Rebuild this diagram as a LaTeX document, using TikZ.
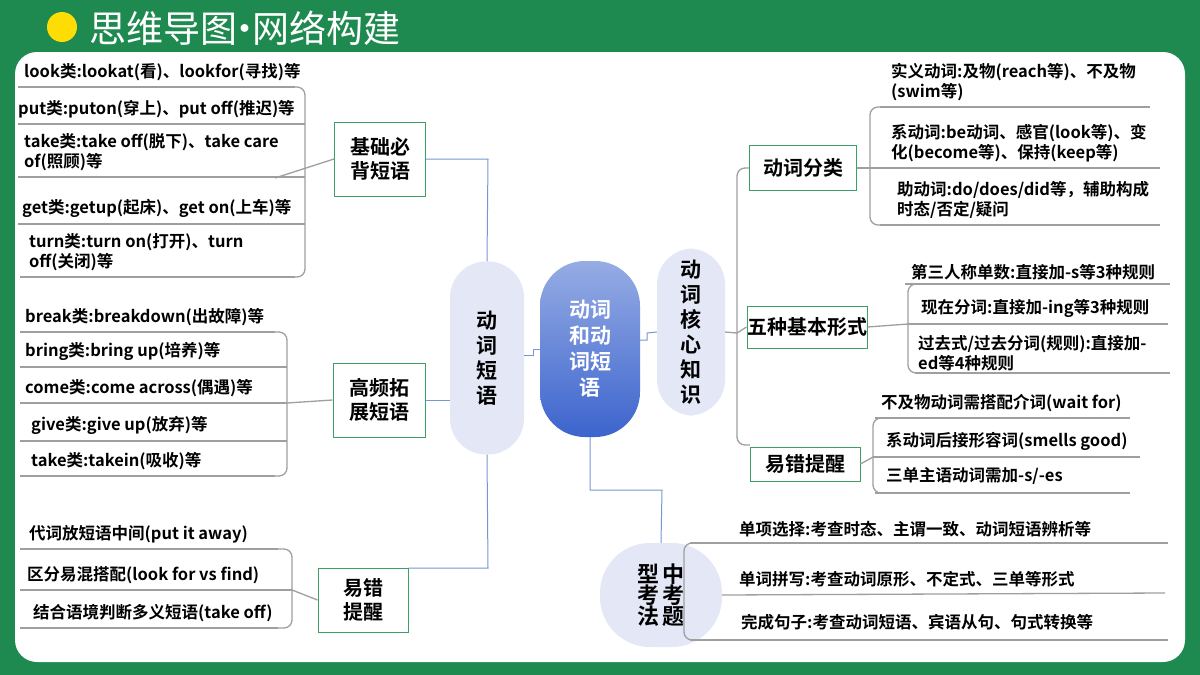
\documentclass[tikz,border=0pt]{standalone}
\usepackage{fontspec}
\setmainfont{Noto Sans CJK SC}[BoldFont={Noto Sans CJK SC Bold}]
\usetikzlibrary{shadows}
\definecolor{bggreen}{RGB}{31,138,80}
\definecolor{pill}{RGB}{228,232,246}
\definecolor{conn}{RGB}{120,150,215}
\definecolor{boxg}{RGB}{60,160,100}
\begin{document}
\begin{tikzpicture}[x=1pt,y=-1pt,
 item/.style={anchor=south west,inner sep=1pt,font=\bfseries\fontsize{16.5}{20}\selectfont,align=left},
 uline/.style={draw=gray!75,line width=1.3pt},
 brk/.style={draw=gray!75,line width=1.3pt,rounded corners=8pt},
 box/.style={draw=boxg,line width=1pt,fill=white,font=\bfseries\fontsize{20}{24}\selectfont,align=center,inner sep=0pt},
 pillst/.style={fill=pill,rounded corners=36pt,font=\bfseries\fontsize{21}{25}\selectfont,align=center},
 cn/.style={draw=conn,line width=1pt}]
\useasboundingbox (0,0) rectangle (1200,675);
\fill[bggreen] (0,0) rectangle (1200,675);
\fill[white,rounded corners=22pt] (15,52) rectangle (1185,662);
\fill[yellow!80!orange] (62,27) circle (15);
\node[anchor=west,text=white,font=\fontsize{37}{40}\selectfont] (title) at (86,28) {思维导图\kern-0.3em·\kern-0.3em网络构建};
% central
\node[minimum width=100,minimum height=176,rounded corners=45pt,top color={rgb,255:red,150;green,172;blue,228},bottom color={rgb,255:red,60;green,100;blue,205},text=white,font=\bfseries\fontsize{21}{26}\selectfont,align=center] (c) at (590,349) {动词\\和动\\词短\\语};
\node[pillst,minimum width=74,minimum height=193] (L) at (487,358) {动\\词\\短\\语};
\node[pillst,minimum width=68,minimum height=167] (R) at (691,332) {动\\词\\核\\心\\知\\识};
\node[pillst,minimum width=122,minimum height=104,rounded corners=50pt,font=\bfseries\fontsize{22}{24}\selectfont] (B) at (661,595) {型\,中\\[-3pt]考\,考\\[-3pt]法\,题};
\draw[cn] (L.east |- 0,355) -- (533,355) -- (533,349) -- (c.west);
\draw[cn] (c.east |- 0,340) -- (647,340) -- (647,333) -- (R.west);
\draw[cn] (c.south) -- (590,490) -- (662,490) -- (B.north);
% left: 基础必背短语
\node[box,minimum width=91,minimum height=74] (b1) at (380,159) {基础必\\背短语};
\draw[cn] (b1.east) -- (488,159) -- (L.north);
\draw[uline] (18,87) -- (295,87); \draw[uline] (18,124) -- (305,124);
\draw[uline] (18,177) -- (305,177); \draw[uline] (18,224) -- (305,224); \draw[uline] (20,277) -- (295,277);
\draw[brk] (290,87) -- (305,87) -- (305,277) -- (290,277);
\draw[uline] (275,178) -- (b1.west);
\node[item] (t1) at (23,82) {look类:lookat(看)、lookfor(寻找)等};
\node[item] (t2) at (17,119) {put类:puton(穿上)、put off(推迟)等};
\node[item] (t3) at (23,172) {take类:take off(脱下)、take care\\of(照顾)等};
\node[item] (t4) at (21,219) {get类:getup(起床)、get on(上车)等};
\node[item] (t5) at (28,272) {turn类:turn on(打开)、turn\\off(关闭)等};
% left: 高频拓展短语
\node[box,minimum width=92,minimum height=74] (b2) at (379,400) {高频拓\\展短语};
\draw[cn] (b2.east) -- (L.west |- b2.east);
\draw[uline] (20,332) -- (275,332); \draw[uline] (20,367) -- (287,367); \draw[uline] (20,403) -- (287,403);
\draw[uline] (20,441) -- (287,441); \draw[uline] (20,476) -- (275,476);
\draw[brk] (270,332) -- (287,332) -- (287,476) -- (270,476);
\draw[uline] (287,403) -- (b2.west);
\node[item] (u1) at (24,327) {break类:breakdown(出故障)等};
\node[item] (u2) at (24,362) {bring类:bring up(培养)等};
\node[item] (u3) at (24,398) {come类:come across(偶遇)等};
\node[item] (u4) at (30,436) {give类:give up(放弃)等};
\node[item] (u5) at (30,471) {take类:takein(吸收)等};
% left: 易错提醒
\node[box,minimum width=90,minimum height=64] (b3) at (363,600) {易错\\提醒};
\draw[cn] (L.south) -- (488,568) -- (b3.east |- 0,568) ;
\draw[uline] (20,549) -- (278,549); \draw[uline] (20,590) -- (292,590); \draw[uline] (20,628) -- (278,628);
\draw[brk] (275,549) -- (292,549) -- (292,628) -- (275,628);
\draw[uline] (292,590) -- (b3.west);
\node[item] (v1) at (28,544) {代词放短语中间(put it away)};
\node[item] (v2) at (26,585) {区分易混搭配(look for vs find)};
\node[item] (v3) at (32,623) {结合语境判断多义短语(take off)};
% right side
\draw[brk] (R.east) -- (737,333);
\draw[brk] (750,168) -- (737,168) -- (737,445) -- (750,445);
\node[box,minimum width=107,minimum height=45] (r1) at (803,168) {动词分类};
\node[box,minimum width=115,minimum height=42] (r2) at (807,327) {五种基本形式};
\node[box,minimum width=110,minimum height=34] (r3) at (805,464) {易错提醒};
\draw[uline] (737,333) -- (r2.west);
% r1 items
\draw[uline] (880,107) -- (1150,107); \draw[uline] (870,168) -- (1160,168); \draw[uline] (880,225) -- (1160,225);
\draw[brk] (885,107) -- (870,107) -- (870,225) -- (885,225);
\draw[uline] (r1.east) -- (870,168);
\node[item] (w1) at (890,102) {实义动词:及物(reach等)、不及物\\(swim等)};
\node[item] (w2) at (890,163) {系动词:be动词、感官(look等)、变\\化(become等)、保持(keep等)};
\node[item] (w3) at (896,220) {助动词:do/does/did等，辅助构成\\时态/否定/疑问};
% r2 items
\draw[uline] (905,284) -- (1170,284); \draw[uline] (908,324) -- (1168,324); \draw[uline] (915,373) -- (1170,373);
\draw[brk] (920,284) -- (908,284) -- (908,373) -- (920,373);
\draw[uline] (r2.east) -- (908,324);
\node[item] (x1) at (910,281) {第三人称单数:直接加-s等3种规则};
\node[item] (x2) at (920,319) {现在分词:直接加-ing等3种规则};
\node[item] (x3) at (917,372) {过去式/过去分词(规则):直接加-\\ed等4种规则};
% r3 items
\draw[uline] (875,418) -- (1130,418); \draw[uline] (873,457) -- (1140,457); \draw[uline] (875,493) -- (1130,493);
\draw[brk] (885,418) -- (873,418) -- (873,493) -- (885,493);
\draw[uline] (r3.east) -- (873,457);
\node[item] (y1) at (880,413) {不及物动词需搭配介词(wait for)};
\node[item] (y2) at (885,452) {系动词后接形容词(smells good)};
\node[item] (y3) at (885,486) {三单主语动词需加-s/-es};
% bottom items
\draw[uline] (690,543) -- (1168,543); \draw[uline] (B.east) -- (1165,593); \draw[uline] (690,640) -- (1168,640);
\draw[brk] (700,543) -- (684,543) -- (684,640) -- (700,640);
\node[item] (z1) at (738,538) {单项选择:考查时态、主谓一致、动词短语辨析等};
\node[item] (z2) at (738,588) {单词拼写:考查动词原形、不定式、三单等形式};
\node[item] (z3) at (740,631) {完成句子:考查动词短语、宾语从句、句式转换等};
\end{tikzpicture}
\end{document}
